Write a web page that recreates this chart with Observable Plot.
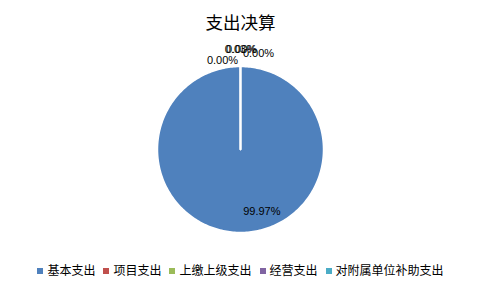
<!DOCTYPE html>
<html><head><meta charset="utf-8">
<script src="https://cdn.jsdelivr.net/npm/d3@7"></script>
<script src="https://cdn.jsdelivr.net/npm/@observablehq/plot@0.6"></script>
<style>
body{margin:0;background:#fff;font-family:"Liberation Sans","Noto Sans CJK SC",sans-serif;}
#wrap{width:481px;height:289px;overflow:hidden;position:relative;}
#title{height:40px;line-height:44px;text-align:center;font-size:17.5px;color:#000;font-family:"Noto Sans CJK SC",sans-serif;}
#legend{position:absolute;top:261px;left:0;width:481px;text-align:center;font-size:12px;color:#000;font-family:"Noto Sans CJK SC",sans-serif;}
#legend span.item{margin:0 4px;white-space:nowrap;}
#legend i{display:inline-block;width:6px;height:6px;margin-right:4px;vertical-align:middle;position:relative;top:-1px;}
</style></head>
<body><div id="wrap"><div id="title">支出决算</div><div id="chart"></div><div id="legend"></div></div>
<script>
const categories = ["基本支出","项目支出","上缴上级支出","经营支出","对附属单位补助支出"];
const values = [99.97, 0.03, 0.00, 0.00, 0.00];
const labels = ["99.97%","0.03%","0.00%","0.00%","0.00%"];
const colors = ["#4F81BD","#C0504D","#9BBB59","#8064A2","#4BACC6"];

const R = 83, W = 481, H = 210, cx = 240, cy = 109;
const arcs = d3.pie().sort(null).value(d => d)(values);
const pts = [];
arcs.forEach((a, i) => {
  const cat = categories[i];
  pts.push({cat, x: 0, y: 0});
  const n = Math.max(2, Math.ceil((a.endAngle - a.startAngle) / 0.02));
  for (let k = 0; k <= n; k++) {
    const t = a.startAngle + (a.endAngle - a.startAngle) * k / n;
    pts.push({cat, x: Math.sin(t), y: Math.cos(t)});
  }
  pts.push({cat, x: 0, y: 0});
});
// label anchors: big slice inside, tiny slices just outside the top
const labelPos = arcs.map((a, i) => {
  const mid = (a.startAngle + a.endAngle) / 2;
  const big = a.endAngle - a.startAngle > 0.3;
  const r = big ? 0.79 : 1.2;
  const ang = big ? mid - 0.33 : mid;
  return {label: labels[i], x: r * Math.sin(ang), y: r * Math.cos(ang)};
});
const ldx = [0, 0, 1, 18, -18];
const ldy = [0, 0, 0, 4, 11];

const chart = Plot.plot({
  width: W, height: H, margin: 0,
  x: {domain: [-cx / R, (W - cx) / R], axis: null},
  y: {domain: [-(H - cy) / R, cy / R], axis: null},
  color: {domain: categories, range: colors},
  style: {fontFamily: "Liberation Sans, sans-serif"},
  marks: [
    Plot.line(pts, {x: "x", y: "y", z: "cat", fill: "cat", stroke: "white", strokeWidth: 1.5, curve: "linear"}),
    Plot.text(labelPos, {x: "x", y: "y", text: "label", fontSize: 11, fill: "#000"}),
  ]
});
document.getElementById("chart").appendChild(chart);
// apply per-label nudges
chart.querySelectorAll("g[aria-label='text'] text").forEach((t, i) => {
  t.setAttribute("dx", ldx[i]); t.setAttribute("dy", ldy[i]);
});
const lg = document.getElementById("legend");
categories.forEach((c, i) => {
  const s = document.createElement("span"); s.className = "item";
  s.innerHTML = `<i style="background:${colors[i]}"></i>${c}`;
  lg.appendChild(s);
});
</script></body></html>
